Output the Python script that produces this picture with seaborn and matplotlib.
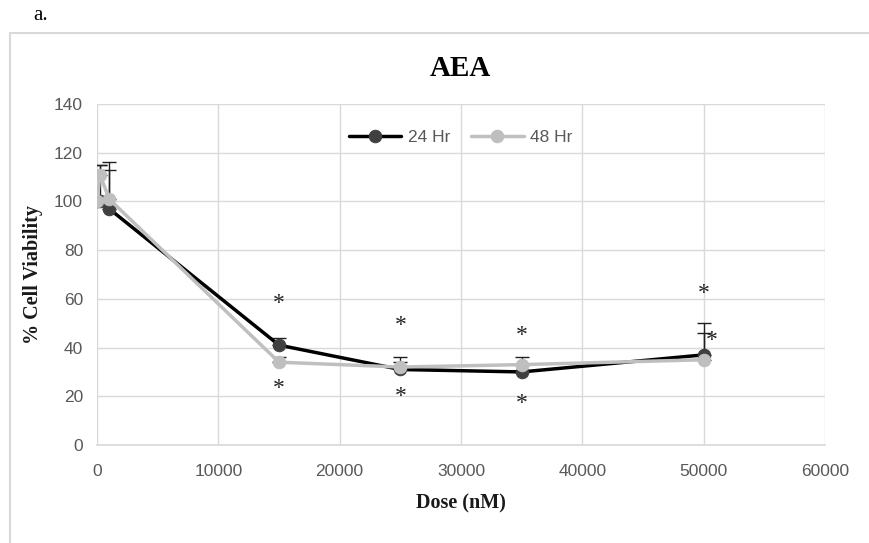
import matplotlib
matplotlib.use("Agg")
import matplotlib.pyplot as plt
import seaborn as sns
import pandas as pd
import numpy as np
from matplotlib.patches import Rectangle

# Data
dose = [0, 250, 1000, 15000, 25000, 35000, 50000]
viab_24 = [100, 100, 97, 41, 31, 30, 37]
err_24 = [0, 15, 19, 3, 3, 3, 13]
viab_48 = [100, 111, 101, 34, 32, 33, 35]
err_48 = [0, 4, 12, 2, 4, 3, 11]
star_x_24 = [15000, 25000, 35000, 50000]
star_y_24 = [58, 49, 45, 62]
star_x_48 = [15000, 25000, 35000, 50700]
star_y_48 = [23, 20, 17, 43]
xticks = [0, 10000, 20000, 30000, 40000, 50000, 60000]
yticks = [0, 20, 40, 60, 80, 100, 120, 140]

sns.set_theme(style="whitegrid")
plt.rcParams['font.family'] = ['Liberation Sans', 'DejaVu Sans']

df = pd.DataFrame({
    "Dose": dose * 2,
    "Viability": viab_24 + viab_48,
    "Series": ["24 Hr"] * len(dose) + ["48 Hr"] * len(dose),
})

fig = plt.figure(figsize=(8.7, 5.43), dpi=100)
ax = fig.add_axes([97/870, 1 - 445/543, (825-97)/870, (445-104)/543])

c24_line, c24_mark = "#000000", "#404040"
c48 = "#BFBFBF"

# error bars (plus direction only)
ax.errorbar(dose, viab_48, yerr=[np.zeros(len(err_48)), err_48], fmt="none",
            ecolor="#202020", elinewidth=1, capsize=5, capthick=1, zorder=2)
ax.errorbar(dose, viab_24, yerr=[np.zeros(len(err_24)), err_24], fmt="none",
            ecolor="#202020", elinewidth=1, capsize=5, capthick=1, zorder=2)

sns.lineplot(data=df[df.Series == "24 Hr"], x="Dose", y="Viability", ax=ax,
             color=c24_line, linewidth=2.5, marker="o", markersize=9,
             markerfacecolor=c24_mark, markeredgecolor=c24_mark, label="24 Hr", zorder=3)
sns.lineplot(data=df[df.Series == "48 Hr"], x="Dose", y="Viability", ax=ax,
             color=c48, linewidth=2.5, marker="o", markersize=9,
             markerfacecolor=c48, markeredgecolor=c48, label="48 Hr", zorder=4)

for x, y in zip(star_x_24, star_y_24):
    ax.text(x, y, "*", ha="center", va="center", fontsize=17, color="#222222",
            family="Liberation Serif")
for x, y in zip(star_x_48, star_y_48):
    ax.text(x, y, "*", ha="center", va="center", fontsize=17, color="#222222",
            family="Liberation Serif")

ax.set_xlim(0, 60000)
ax.set_ylim(0, 140)
ax.set_xticks(xticks)
ax.set_yticks(yticks)
ax.tick_params(axis="both", labelsize=12.5, colors="#595959", length=0)
ax.tick_params(axis="x", pad=14)
ax.tick_params(axis="y", pad=10)
ax.grid(True, color="#D9D9D9", linewidth=1)
for s in ["top", "right", "left"]:
    ax.spines[s].set_visible(False)
ax.spines["bottom"].set_color("#D9D9D9")
ax.set_facecolor("white")

ax.set_xlabel("Dose (nM)", family="Liberation Serif", fontweight="bold",
              fontsize=14.5, color="#1a1a1a", labelpad=10)
ax.set_ylabel("% Cell Viability", family="Liberation Serif", fontweight="bold",
              fontsize=14.5, color="#1a1a1a", labelpad=8)

leg = ax.legend(loc="upper center", bbox_to_anchor=(0.5, 0.97), ncol=2,
                frameon=False, fontsize=12.5, handlelength=3, columnspacing=1.2,
                handletextpad=0.4)
for t in leg.get_texts():
    t.set_color("#595959")

fig.text(460/870, 1 - 68/543, "AEA", ha="center", va="center",
         family="Liberation Serif", fontweight="bold", fontsize=21, color="#000000")
fig.text(33/870, 1 - 15/543, "a.", ha="left", va="center",
         family="Liberation Serif", fontsize=15, color="#000000")

fig.patches.append(Rectangle((10/870, -0.05), 1.2, 1 - 33/543 + 0.05,
                             transform=fig.transFigure, fill=False,
                             edgecolor="#D9D9D9", linewidth=1.5))

fig.savefig("out.png", dpi=100)
